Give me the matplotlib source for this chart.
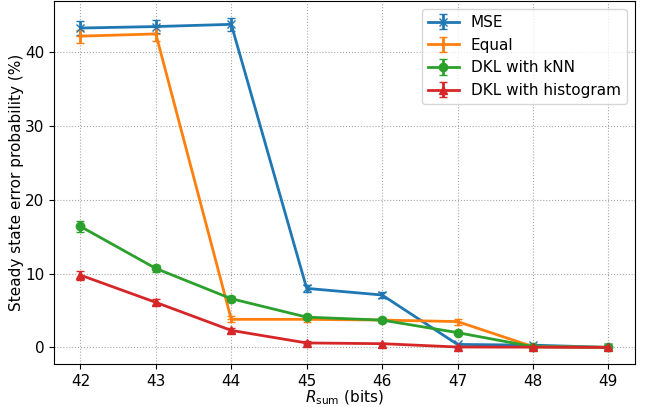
import matplotlib.pyplot as plt

rsum = [42, 43, 44, 45, 46, 47, 48, 49]
mse = [43.3, 43.5, 43.8, 8.0, 7.1, 0.4, 0.3, 0.0]
mse_err = [0.9, 0.9, 0.9, 0.5, 0.4, 0.2, 0.1, 0.0]
equal = [42.2, 42.5, 3.8, 3.8, 3.7, 3.5, 0.1, 0.0]
equal_err = [0.9, 0.9, 0.4, 0.4, 0.3, 0.4, 0.1, 0.0]
knn = [16.4, 10.7, 6.6, 4.1, 3.7, 2.0, 0.1, 0.0]
knn_err = [0.7, 0.5, 0.4, 0.3, 0.3, 0.2, 0.1, 0.0]
hist = [9.8, 6.1, 2.3, 0.6, 0.5, 0.05, 0.03, 0.0]
hist_err = [0.6, 0.4, 0.3, 0.2, 0.1, 0.05, 0.03, 0.0]

series = [
    (mse, mse_err, 'x', 'MSE'),
    (equal, equal_err, '+', 'Equal'),
    (knn, knn_err, 'o', 'DKL with kNN'),
    (hist, hist_err, '^', 'DKL with histogram'),
]

plt.rcParams['font.size'] = 11
fig, ax = plt.subplots(figsize=(6.51, 4.07), dpi=100)
for y, err, m, label in series:
    ax.errorbar(rsum, y, yerr=err, marker=m, capsize=3, linewidth=2,
                markersize=6, label=label)

ax.set_xlabel(r'$R_{\mathrm{sum}}$ (bits)', labelpad=0)
ax.set_ylabel('Steady state error probability (%)', labelpad=1)
ax.set_xticks(rsum)
ax.grid(linestyle=':', color='gray', alpha=0.7)
ax.legend(loc='upper right')
fig.subplots_adjust(left=0.083, right=0.975, top=0.997, bottom=0.106)
fig.savefig('out.png')
